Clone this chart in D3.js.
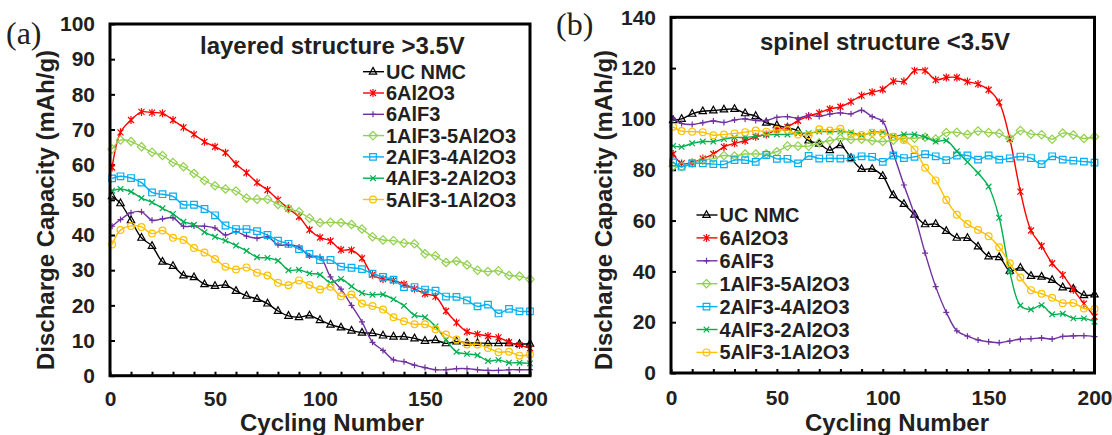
<!DOCTYPE html>
<html>
<head>
<meta charset="utf-8">
<script src="https://cdn.jsdelivr.net/npm/d3@7"></script>
<style>
body { margin:0; background:#fff; }
svg text { font-family:"Liberation Sans", Arial, sans-serif; font-weight:bold; fill:#231f20; }
</style>
</head>
<body>
<svg id="chart" width="1112" height="435"></svg>
<script>
// cycle numbers where a point was recorded
var cycles = [1,5,10,15,20,25,30,35,40,45,50,55,60,65,70,75,80,85,90,95,100,
	105,110,115,120,125,130,135,140,145,150,155,160,165,170,175,180,185,190,195,200];

var seriesNames = ["UC NMC","6Al2O3","6AlF3","1AlF3-5Al2O3","2AlF3-4Al2O3","4AlF3-2Al2O3","5AlF3-1Al2O3"];

// (a) layered structure >3.5V
var ucNmcA = [51,49,44.2,39.2,36.9,32.4,31.2,28.5,28,26,25.5,25.8,24.1,22.7,21.8,20.5,18.4,17,16.6,17.1,15.8,
	14.5,13.7,12.8,12.2,12.1,11.4,11.1,11.1,10.6,9.9,10.1,9.2,9.7,9.3,9.3,9.2,9.2,9.2,9,9.1];
var al2o3A = [59.2,69.2,72.7,75,74.8,74.6,72.7,70.6,68.6,66.5,65.1,63.4,60.2,57.7,54.9,52.8,50,47.5,45.2,41.5,39.3,
	38.3,35.8,35.7,33.4,28.7,27.5,27.1,26,24.7,23.3,22.5,18.4,15.1,12.5,11.8,11.3,10.9,9.5,8.7,7.8];
var alf3A = [42.5,44.4,46.3,46.6,44.2,44.6,44.9,42.5,42.6,42.5,42,40,40.9,39.7,39.1,39.5,37.2,37.2,36.6,34,33.8,
	28.1,24.6,20,15.3,9.5,7.2,4.5,4,3,2.3,1.7,1.7,2,2,1.7,1.5,1.5,1.7,1.7,1.7];
var oneFiveA = [64.4,67,66.6,65.1,63.5,62.6,60.6,59.4,57.5,55.5,54,53.1,52.5,50.5,50.2,50.2,48.7,47.5,46.6,44.8,43.5,
	43.6,43.5,43,41.7,39.5,38.6,38.4,37.7,37.5,34.7,34.1,32.2,32.6,31.5,30,29.6,29.8,28.5,28.3,27.4];
var twoFourA = [56.1,56.7,56.2,54.9,52.1,51.6,51,48.6,48.6,47.4,45.6,42.7,41.7,41.7,41.1,40,38.4,37.5,36,34.6,32.9,
	32.9,31,30.7,30.3,29,28.1,27.3,25.2,25.2,24.5,24.2,22.5,22.4,21.4,19.7,20.2,17.7,19,18.3,18.3];
var fourTwoA = [52.6,53.1,52.3,50.5,49.3,47.6,46,43.8,42.9,40.8,39.5,38.4,37,35.5,33.7,33.5,32.7,30,30.1,29.1,28.7,
	26.4,27.5,25.4,23.5,23,23.1,21.7,19.9,17.2,16.6,14,10.2,6.8,6.2,5.8,4.2,4.5,3.7,3.7,3.5];
var fiveOneA = [37.3,41.4,42.6,42.3,40.4,41.3,39.2,38.6,36.3,35,33.2,31,30.2,30.8,29.3,28.5,26.4,25.7,27.1,25.8,24.5,
	25.3,22.6,23.1,20.5,19.8,18.8,16.6,15.5,14.6,14.6,13.2,11.7,10.3,8.9,8.9,7.9,6.7,6.8,5.7,6];

// (b) spinel structure <3.5V
var ucNmcB = [99.5,100,102,103,103.3,103.7,103.9,102.2,101.1,98.5,97.5,96.5,95.3,91.5,90.2,87.7,89.6,84.6,80.3,80.3,77.5,
	70,66.5,62.3,58.5,58.6,55.9,53.2,53.1,49.8,45.9,45.6,40.2,41.4,38.2,37.9,36.6,33.7,33.1,30.6,30.9];
var al2o3B = [86.2,82.5,82.8,84.4,86.2,89,90.4,91.4,93,93.9,95.9,96.9,99.3,101.1,102.4,103.9,104.8,106.8,109.2,110.5,111.6,
	114.8,114.8,119,119,115.4,116.3,116.3,114.7,113.7,111.5,106.5,92.1,71.4,56.1,50,43.2,38.6,32.8,27.3,22.2];
var alf3B = [100.2,98.2,97.8,98.5,99.2,98.6,99.6,100,99.4,99.4,100.6,100.9,100.3,101.4,101,101.9,102.4,102,103.4,100.9,99,
	86.5,74,62.2,47.2,34,23.9,16.6,14.5,13,12.3,11.9,12.6,13.3,13.5,13.8,13.4,14.4,14.6,14.7,14.3];
var oneFiveB = [81.4,81.2,82.7,83.8,84.4,85.6,85.4,86.2,86.2,86.2,87.1,89.3,89.3,89.3,90.6,91.4,92.3,91.9,92,91.4,91.1,
	91.6,92.4,92.4,92.8,92.1,94.6,94.7,93.9,95.2,94.6,94.3,92.3,95.4,94,93.8,92,94.4,93.7,92.3,93];
var twoFourB = [82.9,81.2,82.5,82.5,82.2,82.1,83.8,83.8,83.1,85.8,84.3,84.3,82.5,85.4,84.4,84.5,84.4,84.5,85.3,85.1,83.1,
	85.6,84.6,85.1,86.1,85.3,83.8,85.6,85.6,84,85.6,84,84.5,85.2,84.6,82.2,85.3,84,83.6,83.2,82.8];
var fourTwoB = [89.4,89,90.4,91.1,91.1,92.1,92.7,92.7,93.2,93.8,93.9,93.9,94.3,94.4,95,95,95,94.7,93.6,94.7,94.7,
	93.2,93.9,93.9,92.9,91.1,91.5,87.3,83,78.7,73.4,61.1,39.7,26.6,25,26.7,23.1,23.3,21.5,21.5,20.2];
var fiveOneB = [96.9,95.2,95,94.8,93.6,93.9,94.3,94.8,95.4,95,95.6,95.6,93.9,93.6,95.9,95.4,96.1,94,93.7,94.6,94.3,
	93,91.7,88,80.8,75.8,68.1,62.3,58.6,56.3,53.8,49.5,43.2,37.6,32.6,31.2,29.6,27.5,27.6,25.4,25.2];

var xLabels = [0,50,100,150,200];
var yLabelsA = [0,10,20,30,40,50,60,70,80,90,100];
var yLabelsB = [0,20,40,60,80,100,120,140];

var seriesColors = ["#000000","#ff0000","#7030a0","#92d050","#00b0f0","#00b050","#ffc000"];
var seriesMarkers = ["triangle","asterisk","plus","diamond","square","cross","circle"];

var svg = d3.select("#chart");

// marker shapes, drawn around 0,0
function markerPath(type){
	switch(type){
		case "triangle": return "M0,-4.3L3.7,2.4L-3.7,2.4Z";
		case "asterisk": return "M-3,-3L3,3M-3,3L3,-3M0,-4L0,4";
		case "plus": return "M-3,0L3,0M0,-3L0,3";
		case "diamond": return "M0,-4.2L4.2,0L0,4.2L-4.2,0Z";
		case "square": return "M-3.3,-3.3L3.3,-3.3L3.3,3.3L-3.3,3.3Z";
		case "cross": return "M-2.8,-2.8L2.8,2.8M-2.8,2.8L2.8,-2.8";
	}
	return null;
}

function drawMarker(g, type, color, px, py){
	if(type == "circle"){
		g.append("circle").attr("cx", px).attr("cy", py).attr("r", 3.4)
			.attr("fill", "none").attr("stroke", color).attr("stroke-width", 1.2);
	} else {
		g.append("path").attr("d", markerPath(type))
			.attr("transform", "translate(" + px + "," + py + ")")
			.attr("fill", "none").attr("stroke", color).attr("stroke-width", 1.2);
	}
}

function drawPanel(p){
	var x = d3.scaleLinear().domain([0, 200]).range([p.left, p.right]);
	var y = d3.scaleLinear().domain([0, p.yMax]).range([p.bottom, p.top]);
	var g = svg.append("g");

	// inward tick marks
	var xt = g.append("g").attr("transform", "translate(0," + p.bottom + ")")
		.call(d3.axisTop(x).tickValues(d3.range(0, 201, 10)).tickSize(4).tickFormat(""));
	var yt = g.append("g").attr("transform", "translate(" + p.left + ",0)")
		.call(d3.axisRight(y).tickValues(p.yLabels).tickSize(5).tickFormat(""));
	[xt, yt].forEach(function(a){
		a.select(".domain").remove();
		a.selectAll("line").attr("stroke", "#000").attr("stroke-width", 2);
	});

	// tick labels
	var xl = g.append("g").attr("transform", "translate(0," + p.bottom + ")")
		.call(d3.axisBottom(x).tickValues(xLabels).tickSize(0).tickPadding(p.xPad));
	var yl = g.append("g").attr("transform", "translate(" + p.left + ",0)")
		.call(d3.axisLeft(y).tickValues(p.yLabels).tickSize(0).tickPadding(15));
	[xl, yl].forEach(function(a){
		a.select(".domain").remove();
		a.attr("font-family", null).attr("font-size", null);
		a.selectAll("text").attr("fill", "#231f20").style("font-size", "21px");
	});

	// series lines and markers
	var line = d3.line()
		.x(function(d){ return x(d[0]); })
		.y(function(d){ return y(d[1]); })
		.curve(d3.curveCatmullRom.alpha(0.5));

	p.series.forEach(function(vals, i){
		var pts = cycles.map(function(c, j){ return [c, vals[j]]; });
		g.append("path").datum(pts).attr("d", line)
			.attr("fill", "none").attr("stroke", seriesColors[i]).attr("stroke-width", 1.4);
		var mg = g.append("g");
		pts.forEach(function(d){
			drawMarker(mg, seriesMarkers[i], seriesColors[i], x(d[0]), y(d[1]));
		});
	});

	// frame
	g.append("rect").attr("x", p.left).attr("y", p.top)
		.attr("width", p.right - p.left).attr("height", p.bottom - p.top)
		.attr("fill", "none").attr("stroke", "#000").attr("stroke-width", 3);

	// title inside the plot
	g.append("text").attr("x", p.titleX).attr("y", p.titleY)
		.style("font-size", "24px").text(p.title);

	// legend
	seriesNames.forEach(function(name, i){
		var ly = p.legendY + i * p.legendDy;
		g.append("line").attr("x1", p.legendX - 10).attr("x2", p.legendX + 11)
			.attr("y1", ly).attr("y2", ly)
			.attr("stroke", seriesColors[i]).attr("stroke-width", 1.4);
		drawMarker(g, seriesMarkers[i], seriesColors[i], p.legendX, ly);
		g.append("text").attr("x", p.legendX + 13).attr("y", ly).attr("dy", "0.35em")
			.style("font-size", "20px").text(name);
	});

	// axis titles
	g.append("text").attr("x", p.xTitleX).attr("y", 431)
		.attr("text-anchor", "middle").style("font-size", "24px").text("Cycling Number");
	g.append("text").attr("transform", "translate(" + p.yTitleX + ",210) rotate(-90)")
		.attr("text-anchor", "middle").style("font-size", "24px").text("Discharge Capacity (mAh/g)");

	// panel letter
	g.append("text").attr("x", p.tagX).attr("y", p.tagY)
		.style("font-family", "'Liberation Serif', 'Times New Roman', serif")
		.style("font-weight", "normal").style("font-size", "32px").text(p.tag);
}

drawPanel({
	left:110, right:530, top:24, bottom:375.7, yMax:100, yLabels:yLabelsA, xPad:15.5,
	series:[ucNmcA, al2o3A, alf3A, oneFiveA, twoFourA, fourTwoA, fiveOneA],
	title:"layered structure >3.5V", titleX:200, titleY:54,
	legendX:373, legendY:71.7, legendDy:21.3,
	xTitleX:332, yTitleX:54, tag:"(a)", tagX:6, tagY:44
});

drawPanel({
	left:671, right:1094.5, top:17.3, bottom:373, yMax:140, yLabels:yLabelsB, xPad:17,
	series:[ucNmcB, al2o3B, alf3B, oneFiveB, twoFourB, fourTwoB, fiveOneB],
	title:"spinel structure <3.5V", titleX:760, titleY:50,
	legendX:706.5, legendY:215, legendDy:22.9,
	xTitleX:897, yTitleX:612, tag:"(b)", tagX:556, tagY:35
});
</script>
</body>
</html>
